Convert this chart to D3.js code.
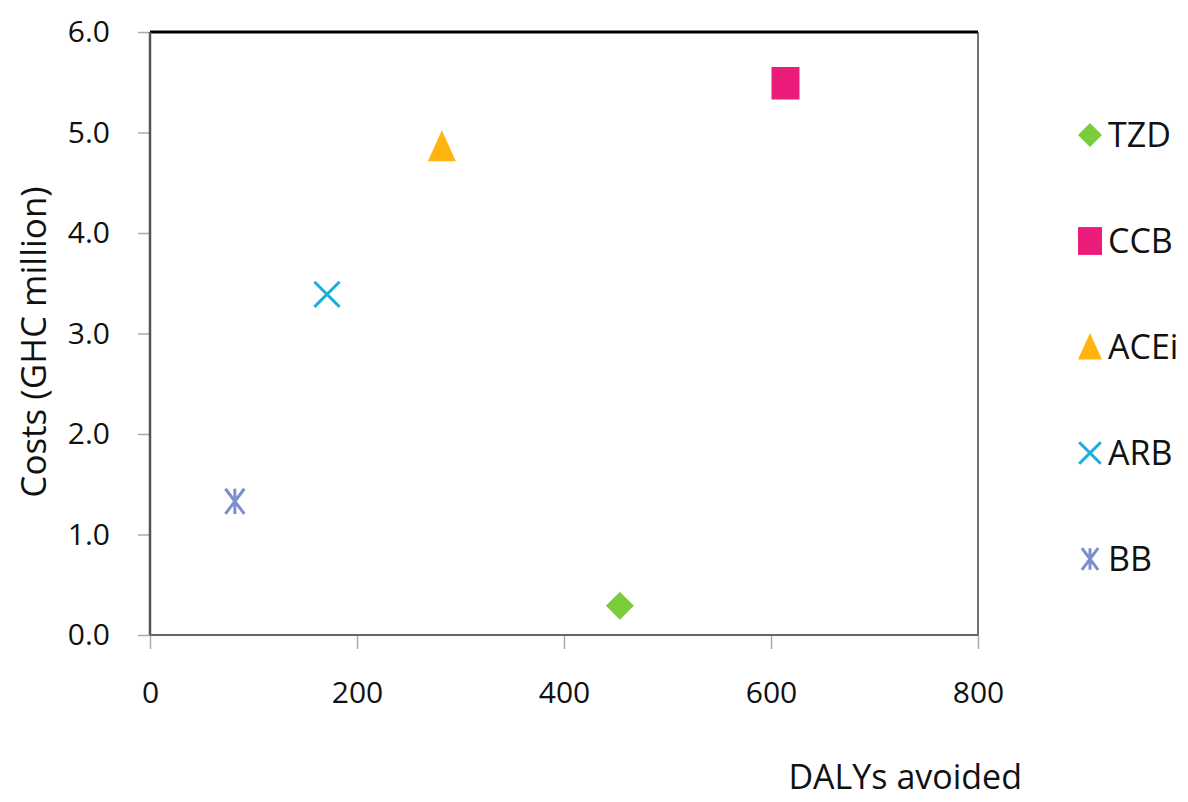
<!DOCTYPE html>
<html><head><meta charset="utf-8">
<script src="https://cdn.jsdelivr.net/npm/d3@7"></script>
<style>body{margin:0;background:#fff;} text{font-family:"Open Sans",sans-serif;}</style>
</head><body>
<svg id="c" width="1188" height="802"></svg>
<script>
const names = ["TZD","CCB","ACEi","ARB","BB"];
const dalys = [454, 614, 282, 171, 82];
const costs = [0.29, 5.49, 4.86, 3.39, 1.33];
const colors = ["#7ACC3A","#EC1C7A","#FFB412","#1AAEDC","#7A8ED0"];
const shapes = ["diamond","square","triangle","x","asterisk"];
const xTicks = [0,200,400,600,800];
const yTicks = [0,1,2,3,4,5,6];

const svg = d3.select("#c");
const L=150, R=978, T=32, B=635;
const x = d3.scaleLinear().domain([0,800]).range([L,R]);
const y = d3.scaleLinear().domain([0,6]).range([B,T]);

svg.append("g").attr("transform",`translate(${L},0)`)
  .call(d3.axisLeft(y).tickValues(yTicks).tickSize(12).tickFormat(d=>d.toFixed(1)))
  .call(g=>{g.select(".domain").remove();
    g.selectAll("line").attr("stroke","#aaa").attr("stroke-width",1.5);
    g.selectAll("text").attr("font-size",30).attr("fill","#111").attr("x",-40).attr("dy","0.32em");});
svg.append("g").attr("transform",`translate(0,${B})`)
  .call(d3.axisBottom(x).tickValues(xTicks).tickSize(14).tickFormat(d3.format("d")))
  .call(g=>{g.select(".domain").remove();
    g.selectAll("line").attr("stroke","#aaa").attr("stroke-width",1.5);
    g.selectAll("text").attr("font-size",30).attr("fill","#111").attr("y",58).attr("dy","0.32em");});

svg.append("line").attr("x1",L).attr("x2",R).attr("y1",T).attr("y2",T).attr("stroke","#000").attr("stroke-width",3);
svg.append("line").attr("x1",R).attr("x2",R).attr("y1",T).attr("y2",B).attr("stroke","#444").attr("stroke-width",1.5);
svg.append("line").attr("x1",L).attr("x2",L).attr("y1",T).attr("y2",B).attr("stroke","#555").attr("stroke-width",2.5);
svg.append("line").attr("x1",L).attr("x2",R).attr("y1",B).attr("y2",B).attr("stroke","#666").attr("stroke-width",2);

function marker(g, shape, color, s){
  if(shape==="diamond"){
    g.append("path").attr("d",`M0,${-s/2}L${s/2},0L0,${s/2}L${-s/2},0Z`).attr("fill",color);
  } else if(shape==="square"){
    g.append("rect").attr("x",-s/2).attr("y",-s*0.58).attr("width",s).attr("height",s*1.16).attr("fill",color);
  } else if(shape==="triangle"){
    g.append("path").attr("d",`M0,${-s*0.58}L${s/2},${s*0.52}L${-s/2},${s*0.52}Z`).attr("fill",color);
  } else if(shape==="x"){
    const h=s*0.45;
    g.append("path").attr("d",`M${-h},${-h}L${h},${h}M${-h},${h}L${h},${-h}`).attr("stroke",color).attr("stroke-width",3).attr("fill","none");
  } else {
    const h=s*0.45;
    g.append("path").attr("d",`M${-h*0.75},${-h}L${h*0.75},${h}M${-h*0.75},${h}L${h*0.75},${-h}M0,${-h}L0,${h}`).attr("stroke",color).attr("stroke-width",3).attr("fill","none");
  }
}

names.forEach((n,i)=>{
  const g = svg.append("g").attr("transform",`translate(${x(dalys[i])},${y(costs[i])})`);
  marker(g, shapes[i], colors[i], 28);
});

names.forEach((n,i)=>{
  const ly = 135 + i*106;
  const g = svg.append("g").attr("transform",`translate(1090,${ly})`);
  marker(g, shapes[i], colors[i], 24);
  svg.append("text").attr("x",1108).attr("y",ly).attr("dy","0.36em").attr("font-size",34).attr("fill","#111").text(n);
});

svg.append("text").attr("x",1022).attr("y",789).attr("text-anchor","end").attr("font-size",34).attr("fill","#111").text("DALYs avoided");
svg.append("text").attr("transform","translate(46,342) rotate(-90)").attr("text-anchor","middle").attr("font-size",35).attr("fill","#111").text("Costs (GHC million)");
</script>
</body></html>
